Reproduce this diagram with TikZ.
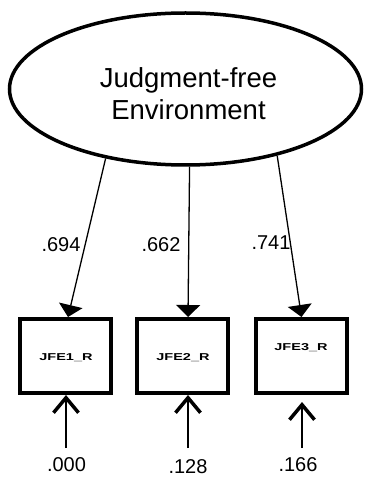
\documentclass[tikz,border=0pt]{standalone}
\usepackage{fontspec}
\setmainfont{Liberation Sans}
\usetikzlibrary{arrows.meta,shapes.geometric}
\begin{document}
\begin{tikzpicture}[x=1pt,y=-1pt,
  latent/.style={draw,ellipse,line width=3.5pt,minimum width=352pt,minimum height=152pt,inner sep=0pt},
  title/.style={align=center,inner sep=0pt,font=\fontsize{27.5}{32}\selectfont},
  indicator/.style={draw,rectangle,line width=4pt,minimum width=91pt,minimum height=74pt,inner sep=0pt},
  boxtext/.style={font=\bfseries\fontsize{10}{12}\selectfont,xscale=1.45,inner sep=0pt},
  coef/.style={font=\fontsize{20}{22}\selectfont,inner sep=0pt},
  loading/.style={line width=1.3pt,-{Triangle[width=24pt,length=12pt]}},
  residual/.style={line width=1.5pt,-{Straight Barb[width=25pt,length=15pt,line width=3.5pt]}}]
\useasboundingbox (0,0) rectangle (366,478);

% latent factor
\node[latent] (env) at (185.5,89) {};
\node[title] (envtext) at (188.5,94) {Judgment-free\\Environment};

% observed indicators
\node[indicator] (jfe1) at (65.5,356) {};
\node[indicator] (jfe2) at (182.5,356) {};
\node[indicator] (jfe3) at (301.5,356) {};
\node[boxtext] (t1) at (66,358) {JFE1\_R};
\node[boxtext] (t2) at (183,358) {JFE2\_R};
\node[boxtext] (t3) at (301,348) {JFE3\_R};

% factor loadings
\draw[loading] (env.221) -- ([xshift=2.5pt]jfe1.north);
\draw[loading] (env.273) -- ([xshift=5.5pt]jfe2.north);
\draw[loading] (env.324) -- (jfe3.north);
\node[coef] (l1) at (61,244.5) {.694};
\node[coef] (l2) at (161,244.5) {.662};
\node[coef] (l3) at (271,243) {.741};

% residual terms
\coordinate (e1) at (66,448);
\coordinate (e2) at (188,448);
\coordinate (e3) at (302,448);
\draw[residual] (e1) -- (e1 |- jfe1.south);
\draw[residual] (e2) -- (e2 |- jfe2.south);
\draw[residual] (e3) -- ([yshift=-7pt]e3 |- jfe3.south);
\node[coef] (r1) at (66.5,464.5) {.000};
\node[coef] (r2) at (188,467) {.128};
\node[coef] (r3) at (298,465) {.166};
\end{tikzpicture}
\end{document}
